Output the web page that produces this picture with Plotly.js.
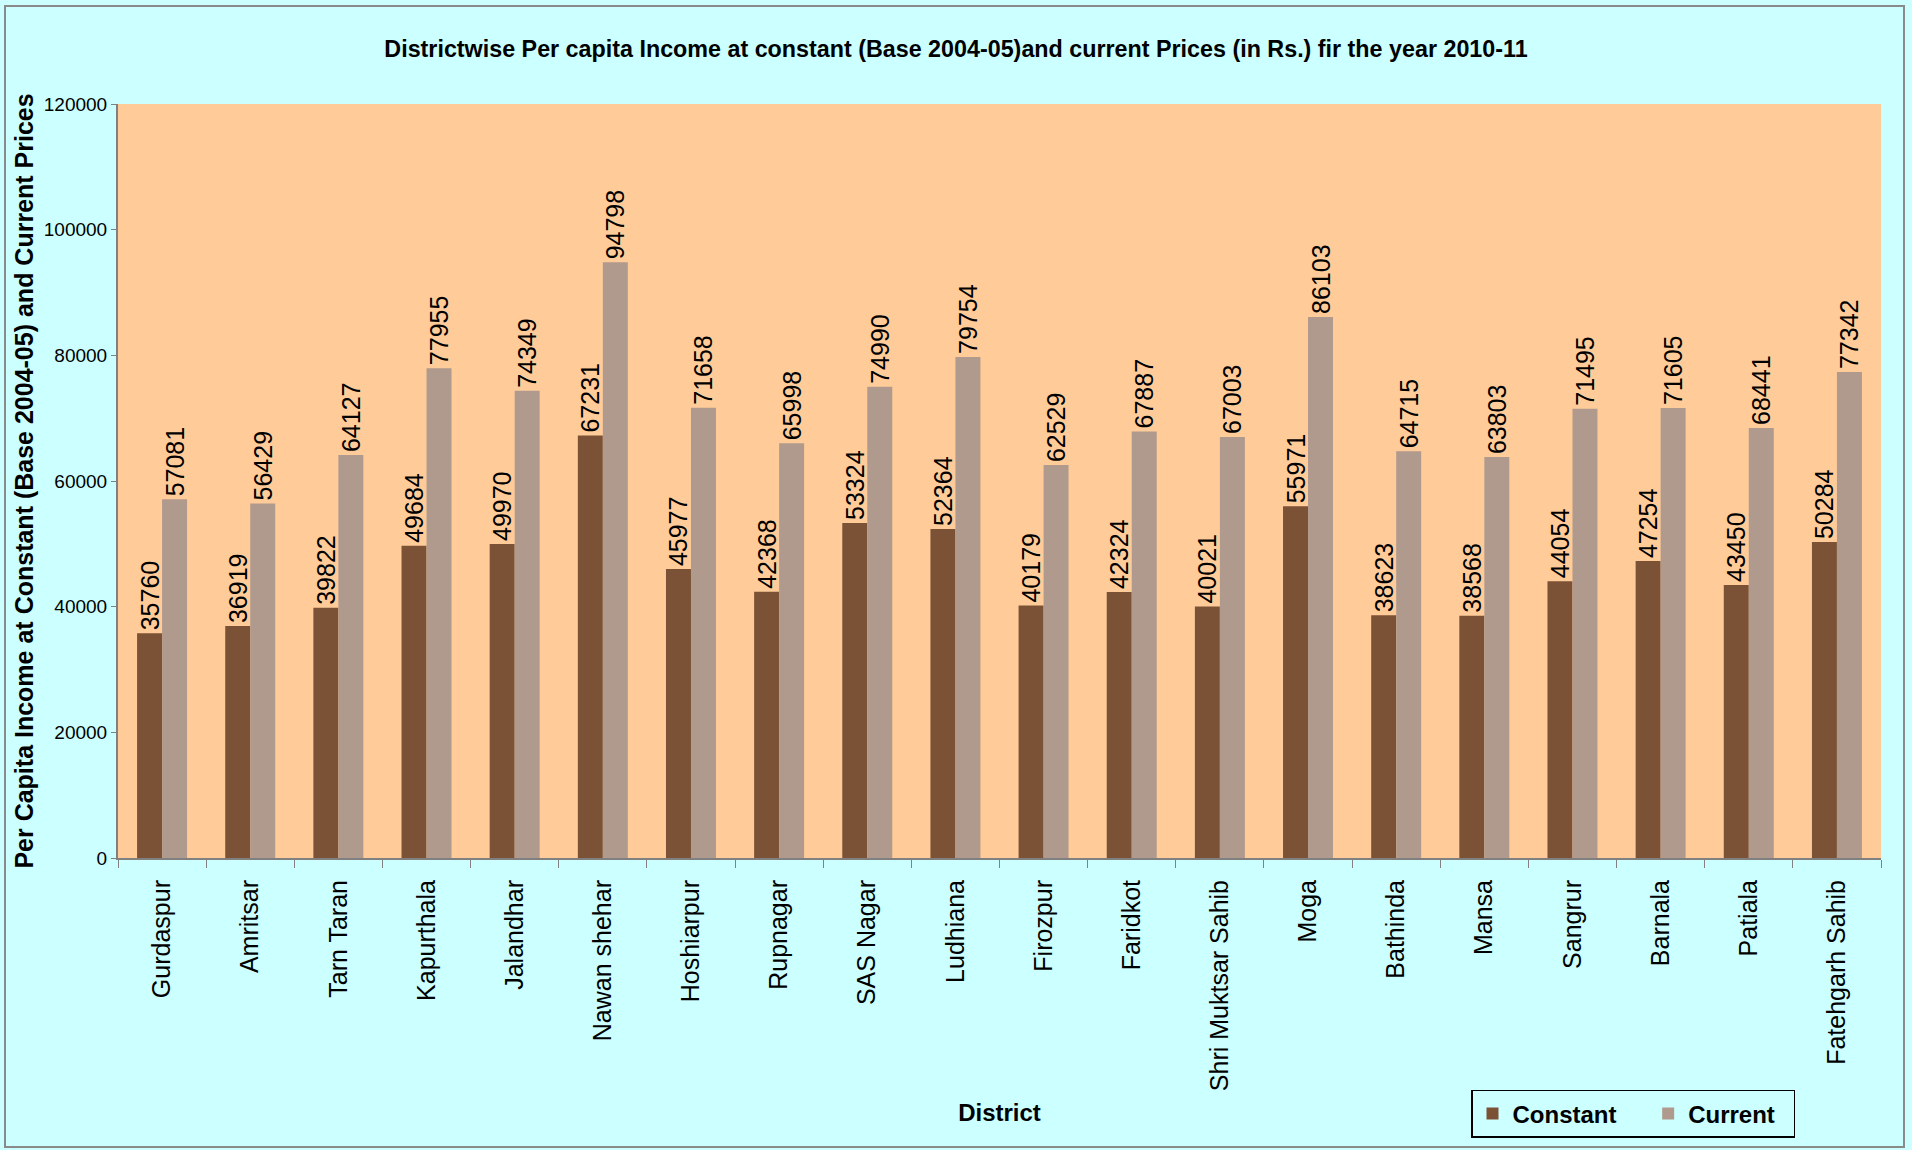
<!DOCTYPE html>
<html>
<head>
<meta charset="utf-8">
<script src="https://cdn.plot.ly/plotly-3.0.1.min.js"></script>
<style>
  html, body { margin: 0; padding: 0; background: #ffffff; }
  #chart { position: absolute; left: 0; top: 0; width: 1912px; height: 1150px; }
  #frame { position: absolute; left: 4px; top: 5px; width: 1901px; height: 1143px; box-sizing: border-box; border: 2px solid #8a8a8a; pointer-events: none; }
</style>
</head>
<body>
<div id="chart"></div>
<div id="frame"></div>
<script>
const districts = ["Gurdaspur", "Amritsar", "Tarn Taran", "Kapurthala", "Jalandhar", "Nawan shehar", "Hoshiarpur", "Rupnagar", "SAS Nagar", "Ludhiana", "Firozpur", "Faridkot", "Shri Muktsar Sahib", "Moga", "Bathinda", "Mansa", "Sangrur", "Barnala", "Patiala", "Fatehgarh Sahib"];
const constantPrices = [35760, 36919, 39822, 49684, 49970, 67231, 45977, 42368, 53324, 52364, 40179, 42324, 40021, 55971, 38623, 38568, 44054, 47254, 43450, 50284];
const currentPrices = [57081, 56429, 64127, 77955, 74349, 94798, 71658, 65998, 74990, 79754, 62529, 67887, 67003, 86103, 64715, 63803, 71495, 71605, 68441, 77342];
const yTicks = [0, 20000, 40000, 60000, 80000, 100000, 120000];
const seriesNames = ["Constant", "Current"];

const sans = "Liberation Sans, Arial, sans-serif";
const pad = "\u00a0\u00a0\u00a0\u00a0";

const common = {
  type: "bar",
  x: districts,
  textposition: "outside",
  textangle: -90,
  constraintext: "none",
  cliponaxis: false,
  textfont: { family: sans, size: 25, color: "#000000" },
  hoverinfo: "x+y"
};

const traces = [
  Object.assign({}, common, {
    name: seriesNames[0] + pad,
    y: constantPrices,
    text: constantPrices.map(String),
    marker: { color: "#7B5236", line: { width: 0 } }
  }),
  Object.assign({}, common, {
    name: seriesNames[1] + "\u00a0\u00a0",
    y: currentPrices,
    text: currentPrices.map(String),
    marker: { color: "#B09A8E", line: { width: 0 } }
  })
];

const layout = {
  width: 1912,
  height: 1150,
  margin: { l: 118, r: 31, t: 104, b: 285 },
  paper_bgcolor: "#CCFFFF",
  plot_bgcolor: "#FFCC99",
  barmode: "group",
  bargap: 0.433,
  bargroupgap: 0,
  showlegend: true,
  title: {
    text: "<b>Districtwise Per capita Income at constant (Base 2004-05)and current Prices (in Rs.) fir the year 2010-11</b>",
    font: { family: sans, size: 23.3, color: "#000000" },
    x: 0.5, xanchor: "center",
    y: 1 - 49 / 1150, yanchor: "middle", yref: "container"
  },
  xaxis: {
    type: "category",
    tickangle: -90,
    tickfont: { family: sans, size: 25, color: "#000000" },
    ticks: "outside",
    tickson: "boundaries",
    ticklen: 8,
    tickcolor: "#808080",
    ticklabelstandoff: 10,
    showline: true,
    linecolor: "#808080",
    linewidth: 2,
    showgrid: false,
    zeroline: false,
    title: {
      text: "<b>District</b>",
      font: { family: sans, size: 24, color: "#000000" },
      standoff: 14
    },
    automargin: false
  },
  yaxis: {
    range: [0, 120000],
    tickvals: yTicks,
    tickformat: "d",
    tickfont: { family: sans, size: 19, color: "#000000" },
    ticks: "outside",
    ticklen: 5,
    tickcolor: "#808080",
    showline: true,
    linecolor: "#808080",
    linewidth: 2,
    showgrid: false,
    zeroline: false,
    title: {
      text: "<b>Per Capita Income at Constant (Base 2004-05) and Current Prices</b>",
      font: { family: sans, size: 25, color: "#000000" },
      standoff: 3
    },
    automargin: false
  },
  legend: {
    orientation: "h",
    x: (1471 - 118) / 1763,
    xanchor: "left",
    y: -(1099 - 865) / 761,
    yanchor: "top",
    bgcolor: "#CCFFFF",
    bordercolor: "#000000",
    borderwidth: 1.5,
    font: { family: sans, size: 24, color: "#000000", weight: "bold" },
    itemwidth: 30,
    traceorder: "normal"
  }
};

Plotly.newPlot("chart", traces, layout, { displayModeBar: false, staticPlot: true });
</script>
</body>
</html>
